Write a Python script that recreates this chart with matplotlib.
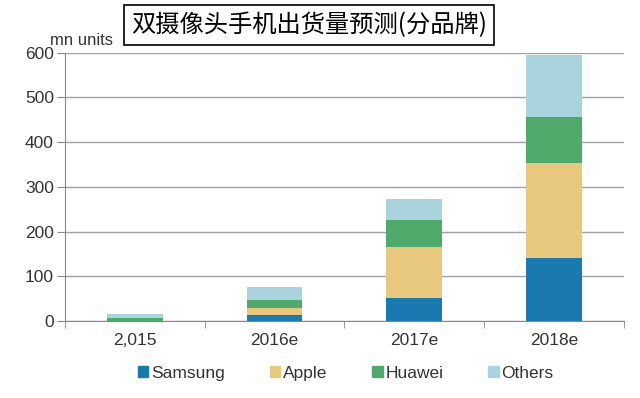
import matplotlib

matplotlib.use("Agg")

import matplotlib.pyplot as plt
import numpy as np
from matplotlib.patches import Patch

plt.rcParams["font.family"] = ["Liberation Sans", "DejaVu Sans"]

categories = ["2,015", "2016e", "2017e", "2018e"]
brands = ["Samsung", "Apple", "Huawei", "Others"]
samsung = [0, 13, 52, 141]
apple = [0, 15, 114, 213]
huawei = [6, 19, 60, 103]
others = [10, 28, 46, 138]
colors = ["#1a79ae", "#e8c87d", "#4ea96a", "#a9d4de"]
yticks = [0, 100, 200, 300, 400, 500, 600]

fig = plt.figure(figsize=(6.4, 3.98), dpi=100)
ax = fig.add_axes([0.1016, 0.1935, 0.873, 0.674])

x = np.arange(len(categories))
bottom = np.zeros(len(categories))
for name, vals, col in zip(brands, [samsung, apple, huawei, others], colors):
    ax.bar(x, vals, width=0.4, bottom=bottom, color=col, zorder=3, label=name)
    bottom += np.array(vals)

ax.set_xlim(-0.5, len(categories) - 0.5)
ax.set_ylim(0, 600)
ax.set_yticks(yticks)
ax.set_xticks(x)
ax.set_xticklabels(categories)
ax.set_xticks(np.arange(-0.5, len(categories)), minor=True)
ax.tick_params(axis="x", which="major", length=0, labelsize=12.5, colors="#333333", pad=9)
ax.tick_params(axis="x", which="minor", length=5, color="#888888", direction="out")
ax.tick_params(axis="y", length=6, color="#888888", labelsize=12.5, labelcolor="#333333", pad=2)
ax.grid(axis="y", color="#a0a0a0", lw=1.0, zorder=0)
for side in ["top", "right"]:
    ax.spines[side].set_visible(False)
for side in ["left", "bottom"]:
    ax.spines[side].set_color("#888888")

fig.text(0.078, 0.888, "mn units", fontsize=12, color="#333333", va="baseline")
fig.text(0.483, 0.937, "双摄像头手机出货量预测(分品牌)", fontsize=17.5, ha="center", va="center",
         family=["Noto Sans CJK SC", "DejaVu Sans"],
         bbox=dict(boxstyle="square,pad=0.3", fc="white", ec="black", lw=1.2))

handles = [Patch(color=c) for c in colors]
fig.legend(handles, brands, loc="center", bbox_to_anchor=(0.54, 0.062), ncol=4, frameon=False,
           fontsize=12.5, handlelength=0.6, handleheight=0.6, handletextpad=0.15, columnspacing=2.6,
           labelcolor="#333333")

fig.savefig("out.png", dpi=100)
